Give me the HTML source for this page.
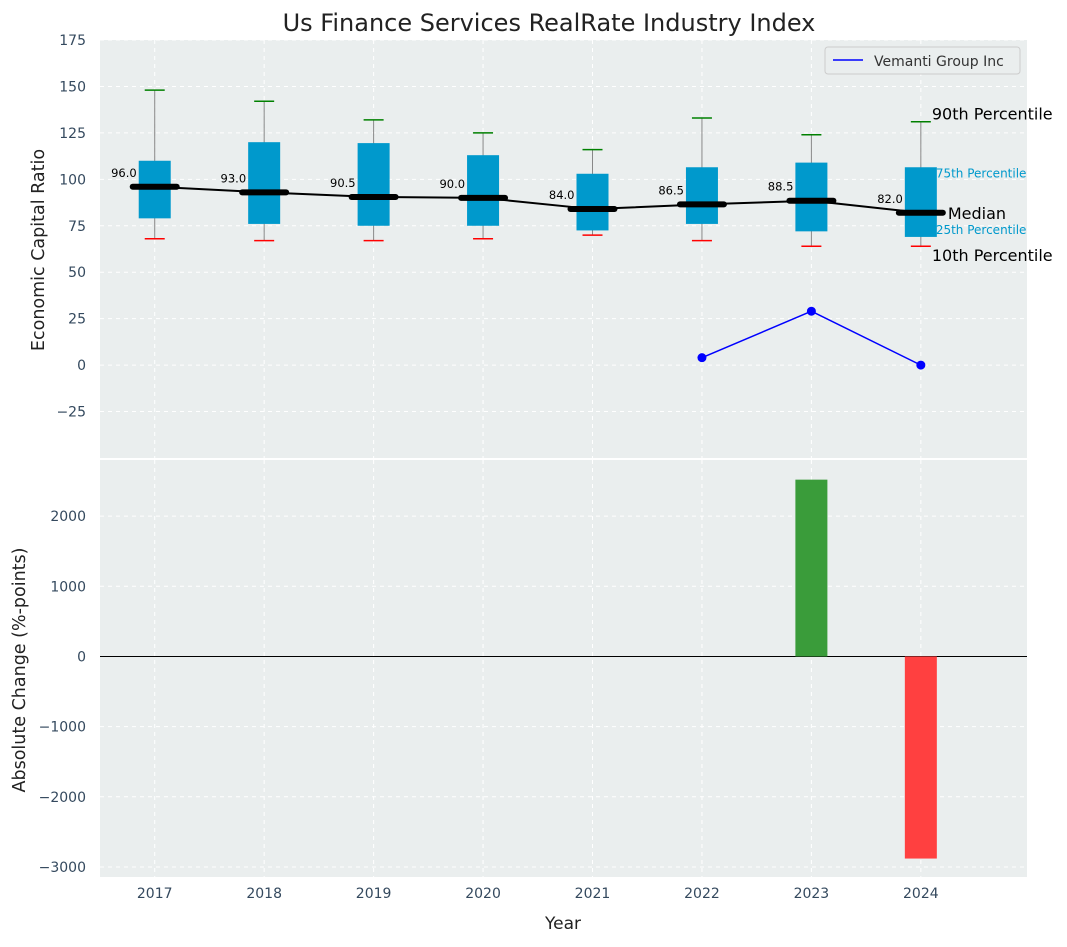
<!DOCTYPE html>
<html><head><meta charset="utf-8"><style>
body{margin:0;background:#fff;font-family:"Liberation Sans","DejaVu Sans",sans-serif}
svg text{font-family:"DejaVu Sans","Liberation Sans",sans-serif}
</style></head><body>
<svg id="c" width="1067" height="942"></svg>
<script>
const years=[2017,2018,2019,2020,2021,2022,2023,2024];
const q1=[79,76,75,75,72.5,76,72,69];
const q3=[110,120,119.5,113,103,106.5,109,106.5];
const p10=[68,67,67,68,70,67,64,64];
const p90=[148,142,132,125,116,133,124,131];
const med=[96,93,90.5,90,84,86.5,88.5,82];
const compYears=[2022,2023,2024];
const compVals=[4,29,0];
const chgYears=[2023,2024];
const chgVals=[2520,-2880];
const topTicks=[-25,0,25,50,75,100,125,150,175];
const botTicks=[-3000,-2000,-1000,0,1000,2000];

const s=document.getElementById('c');const NS='http://www.w3.org/2000/svg';
function el(t,a,txt){const e=document.createElementNS(NS,t);for(const k in a)e.setAttribute(k,a[k]);if(txt!==undefined)e.textContent=txt;s.appendChild(e);return e;}
const L=100,R=1027;
const x=v=>L+(v-2016.5)/(2024.97-2016.5)*(R-L);
const T0=40,T1=458,B0=460,B1=877;
const yT=v=>T1-(v+50)/(175+50)*(T1-T0);
const yB=v=>B1-(v+3143)/(2800+3143)*(B1-B0);
let e;
e=el('rect',{x:L,y:T0,width:R-L,height:T1-T0,fill:'#eaeeee'});

e=el('rect',{x:L,y:B0,width:R-L,height:B1-B0,fill:'#eaeeee'});

years.forEach(v=>{el('line',{x1:x(v),x2:x(v),y1:T0,y2:T1,stroke:'#fff','stroke-dasharray':'4,4'});el('line',{x1:x(v),x2:x(v),y1:B0,y2:B1,stroke:'#fff','stroke-dasharray':'4,4'});
 e=el('text',{x:x(v),y:898,'text-anchor':'middle','font-size':14,fill:'#34495e'},v);});
topTicks.forEach(v=>{el('line',{x1:L,x2:R,y1:yT(v),y2:yT(v),stroke:'#fff','stroke-dasharray':'4,4'});
 e=el('text',{x:86,y:yT(v)+5,'text-anchor':'end','font-size':14,fill:'#34495e'},v<0?'−'+(-v):v);});
botTicks.forEach(v=>{el('line',{x1:L,x2:R,y1:yB(v),y2:yB(v),stroke:'#fff','stroke-dasharray':'4,4'});
 e=el('text',{x:86,y:yB(v)+5,'text-anchor':'end','font-size':14,fill:'#34495e'},v<0?'−'+(-v):v);});
const bw=16;
years.forEach((yr,i)=>{const cx=x(yr);
 el('line',{x1:cx,x2:cx,y1:yT(p10[i]),y2:yT(p90[i]),stroke:'#888','stroke-width':1});
 e=el('rect',{x:cx-bw,y:yT(q3[i]),width:2*bw,height:yT(q1[i])-yT(q3[i]),fill:'#0099cc'});
 el('line',{x1:cx-10,x2:cx+10,y1:yT(p90[i]),y2:yT(p90[i]),stroke:'green','stroke-width':1.5});
 el('line',{x1:cx-10,x2:cx+10,y1:yT(p10[i]),y2:yT(p10[i]),stroke:'red','stroke-width':1.5});
});
let pts=years.map((yr,i)=>x(yr)+','+yT(med[i])).join(' ');
e=el('polyline',{points:pts,fill:'none',stroke:'#000','stroke-width':2});
years.forEach((yr,i)=>{const cx=x(yr);
 e=el('line',{x1:cx-22,x2:cx+22,y1:yT(med[i]),y2:yT(med[i]),stroke:'#000','stroke-width':6,'stroke-linecap':'round'});
 e=el('text',{x:cx-18,y:yT(med[i])-10,'text-anchor':'end','font-size':11.5,fill:'#000'},med[i].toFixed(1));
});
pts=compYears.map((yr,i)=>x(yr)+','+yT(compVals[i])).join(' ');
e=el('polyline',{points:pts,fill:'none',stroke:'blue','stroke-width':1.5});
compYears.forEach((yr,i)=>{e=el('circle',{cx:x(yr),cy:yT(compVals[i]),r:4.5,fill:'blue'});});
const li=years.length-1,ax=x(years[li]);
[[p90[li],'90th Percentile',16,'#000',11,-2],[q3[li],'75th Percentile',12,'#0099cc',15,10],[med[li],'Median',16,'#000',27,6],[q1[li],'25th Percentile',12,'#0099cc',15,-3],[p10[li],'10th Percentile',16,'#000',11,15]].forEach(a=>{
 e=el('text',{x:ax+a[4],y:yT(a[0])+a[5],'font-size':a[2],fill:a[3]},a[1]);});
el('line',{x1:L,x2:R,y1:yB(0),y2:yB(0),stroke:'#000','stroke-width':1});
chgYears.forEach((yr,i)=>{const v=chgVals[i];
 e=el('rect',{x:x(yr)-bw,y:Math.min(yB(v),yB(0)),width:2*bw,height:Math.abs(yB(v)-yB(0)),fill:v>=0?'#3a9c3a':'#ff4040'});});
e=el('rect',{x:825,y:47,width:195,height:27,fill:'#eaeeee',stroke:'#ccc',rx:3});
el('line',{x1:833,x2:863,y1:60,y2:60,stroke:'blue','stroke-width':1.5});
e=el('text',{x:874,y:66,'font-size':14,fill:'#333'},'Vemanti Group Inc');
e=el('text',{x:549,y:31,'text-anchor':'middle','font-size':24,fill:'#222'},'Us Finance Services RealRate Industry Index');
e=el('text',{x:563,y:929,'text-anchor':'middle','font-size':17,fill:'#222'},'Year');
e=el('text',{x:0,y:0,'text-anchor':'middle','font-size':17.5,fill:'#222',transform:'translate(44,250) rotate(-90)'},'Economic Capital Ratio');
e=el('text',{x:0,y:0,'text-anchor':'middle','font-size':17.5,fill:'#222',transform:'translate(25,670) rotate(-90)'},'Absolute Change (%-points)');
</script>
</body></html>
